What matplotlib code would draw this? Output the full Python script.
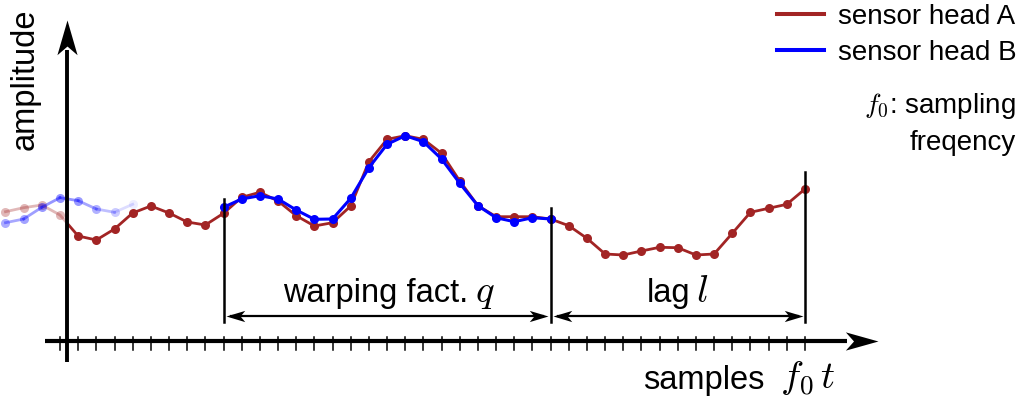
import numpy as np
import matplotlib
matplotlib.use("Agg")
import matplotlib.pyplot as plt
from matplotlib.lines import Line2D
from matplotlib.patches import Rectangle
from matplotlib.path import Path

plt.rcParams['font.family'] = ['Liberation Sans', 'DejaVu Sans']
plt.rcParams['mathtext.fontset'] = 'cm'

# samples (index) and amplitudes
samples_a = np.arange(-3, 42)
amp_a = [8.83, 9.23, 9.5, 8.5, 6.4, 6.0, 7.1, 8.7, 9.4, 8.7, 7.8, 7.5,
         8.67, 10.27, 10.77, 9.9, 8.43, 7.4, 7.73, 9.4, 13.83, 16.07, 16.43,
         16.07, 14.67, 11.9, 9.43, 8.33, 8.33, 8.33, 8.1, 7.43, 6.17, 4.6,
         4.5, 4.9, 5.27, 5.23, 4.5, 4.6, 6.67, 8.77, 9.17, 9.57, 11.1]

# head B before the window (fades out)
samples_b_pre = np.arange(-3, 5)
amp_b_pre = [7.73, 8.1, 9.27, 10.23, 9.93, 9.1, 8.77, 9.57]
alpha_b_pre = [0.33, 0.36, 0.4, 0.42, 0.4, 0.3, 0.2, 0.07]

# head B inside the window
samples_b = np.arange(9, 28)
amp_b = [9.27, 10.1, 10.43, 10.1, 9.0, 8.07, 8.1, 10.17, 13.23, 15.57,
         16.43, 15.83, 14.1, 11.67, 9.43, 8.23, 7.83, 8.23, 8.1]

n_ticks = 42
win_start, win_end, lag_end = 9, 27, 41
bar_tops = [10.1, 9.2, 12.8]

red = '#a22424'
blue = '#0000ff'

fig = plt.figure(figsize=(10.26, 4.0), dpi=100)
ax = fig.add_axes([0, 0, 1, 1])
ax.set_xlim(-60 / 18.17, 966 / 18.17)
ax.set_ylim(-10, 30)
ax.axis('off')

yaxis_x = 0.385
xaxis_y = -4.1

# stealth arrow heads as markers (tip at origin)
head_r = Path([(0, 0), (-1, 0.28), (-0.75, 0), (-1, -0.28), (0, 0)],
              [1, 2, 2, 2, 79])
head_l = Path([(0, 0), (1, 0.3), (0.75, 0), (1, -0.3), (0, 0)],
              [1, 2, 2, 2, 79])
head_r2 = Path([(0, 0), (-1, 0.3), (-0.75, 0), (-1, -0.3), (0, 0)],
               [1, 2, 2, 2, 79])
head_u = Path([(0, 0), (0.29, -1), (0, -0.75), (-0.29, -1), (0, 0)],
              [1, 2, 2, 2, 79])

# red, faded part left of the y axis
left_clip = Rectangle((-10, -20), 10 + yaxis_x, 60, transform=ax.transData)
right_clip = Rectangle((yaxis_x, -20), 60, 60, transform=ax.transData)
l1, = ax.plot(samples_a[:5], amp_a[:5], color=red, alpha=0.32, lw=2.0,
              marker='o', ms=6.5, mew=0, zorder=2)
l1.set_clip_path(left_clip)
l2, = ax.plot(samples_a[3:], amp_a[3:], color=red, lw=2.0,
              marker='o', ms=6.5, mew=0, zorder=3)
l2.set_clip_path(right_clip)

# blue, faded part
for i in range(len(samples_b_pre) - 1):
    a = (alpha_b_pre[i] + alpha_b_pre[i + 1]) / 2
    ax.plot(samples_b_pre[i:i + 2], amp_b_pre[i:i + 2], color=blue,
            alpha=a, lw=2.0, zorder=2)
for s, v, a in zip(samples_b_pre, amp_b_pre, alpha_b_pre):
    ax.plot(s, v, 'o', color=blue, alpha=a, ms=6.5, mew=0, zorder=2)

ax.plot(samples_b, amp_b, color=blue, lw=2.2, marker='o', ms=6.5, mew=0,
        zorder=4)

# axes with arrows
ax.plot([-0.83, 43.3], [xaxis_y, xaxis_y], color='k', lw=3, zorder=5,
        solid_capstyle='butt')
ax.plot(45.02, xaxis_y, marker=head_r, ms=47, color='k', mew=0, zorder=5)
ax.plot([yaxis_x, yaxis_x], [-6.2, 25], color='k', lw=2.8, zorder=5,
        solid_capstyle='butt')
ax.plot(yaxis_x, 28.0, marker=head_u, ms=50, color='k', mew=0, zorder=5)
for t in range(n_ticks):
    ax.plot([t, t], [-3.7, -5.0], color='k', lw=1.1, zorder=5)

# window bars and dimension arrows
for x, top in zip([win_start, win_end, lag_end], bar_tops):
    ax.plot([x, x], [top, -2.2], color='k', lw=1.8, zorder=5)
for x0, x1 in [(win_start, win_end), (win_end, lag_end)]:
    ax.plot([x0 + 0.4, x1 - 0.4], [-1.55, -1.55], color='k', lw=1.6, zorder=5)
    ax.plot(x0 + 0.12, -1.55, marker=head_l, ms=27, color='k', mew=0, zorder=5)
    ax.plot(x1 - 0.12, -1.55, marker=head_r2, ms=27, color='k', mew=0, zorder=5)

ax.text(22.45, -0.17, 'warping fact.', fontsize=23.5, ha='right',
        va='baseline')
ax.text(22.85, -0.17, '$q$', fontsize=28, ha='left', va='baseline')
ax.text(34.67, -0.17, 'lag', fontsize=23.5, ha='right', va='baseline')
ax.text(35.0, -0.17, '$l$', fontsize=28, ha='left', va='baseline')
ax.text(38.75, -8.9, 'samples', fontsize=23.5, ha='right', va='baseline')
ax.text(39.6, -8.9, '$f_0\\,t$', fontsize=28, ha='left', va='baseline')
ax.text(-1.93, 22.1, 'amplitude', fontsize=23.5, rotation=90,
        ha='center', va='center')

handles = [Line2D([], [], color=red, lw=2.9), Line2D([], [], color=blue, lw=2.9)]
ax.legend(handles, ['sensor head A', 'sensor head B'], loc='upper right',
          bbox_to_anchor=(1017 / 1026, 1 - 4 / 400), frameon=False,
          fontsize=20, handlelength=1.7, handletextpad=0.5, borderpad=0,
          borderaxespad=0, labelspacing=0.35)
fig.text(1016 / 1026, 1 - 106 / 400, '$f_0$: sampling', fontsize=20,
         ha='right', va='center')
fig.text(1016 / 1026, 1 - 143 / 400, 'freqency', fontsize=20,
         ha='right', va='center')

fig.savefig('out.png', dpi=100)
